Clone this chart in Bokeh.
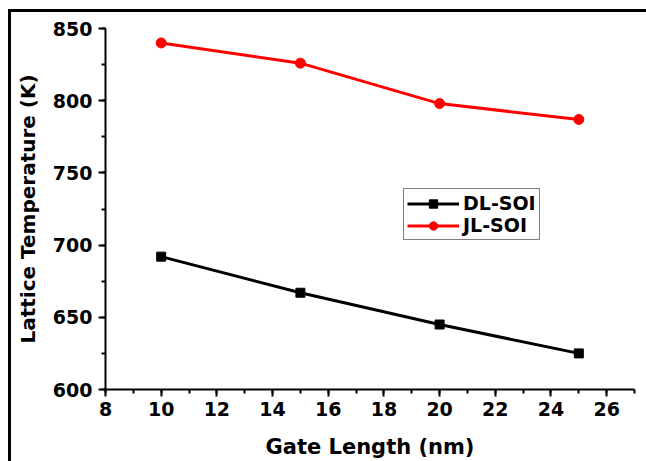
from bokeh.plotting import figure
from bokeh.layouts import column
from bokeh.models import SingleIntervalTicker, Range1d, Legend, LegendItem
from bokeh.embed import file_html
from bokeh.resources import INLINE

gate_length = [10, 15, 20, 25]
dl_soi = [692, 667, 645, 625]
jl_soi = [840, 826, 798, 787]

x_label = "Gate Length (nm)"
y_label = "Lattice Temperature (K)"

FONT = "DejaVu Sans"

p = figure(width=635, height=449, output_backend="svg", toolbar_location=None,
           x_range=Range1d(8, 27), y_range=Range1d(600, 850),
           min_border_left=94, min_border_right=12, min_border_top=16, min_border_bottom=70)
p.outline_line_color = None
p.xgrid.grid_line_color = None
p.ygrid.grid_line_color = None

r1 = p.line(gate_length, dl_soi, line_color="black", line_width=3)
s1 = p.scatter(gate_length, dl_soi, marker="square", size=9, color="black")
r2 = p.line(gate_length, jl_soi, line_color="#ff0000", line_width=3)
s2 = p.scatter(gate_length, jl_soi, marker="circle", size=10, color="#ff0000")

legend = Legend(items=[LegendItem(label="DL-SOI", renderers=[r1, s1]),
                       LegendItem(label="JL-SOI", renderers=[r2, s2])],
                location=(298, 149))
legend.label_text_font = FONT
legend.label_text_font_style = "bold"
legend.label_text_font_size = "19px"
legend.label_text_color = "black"
legend.glyph_width = 52
legend.glyph_height = 21
legend.spacing = 0
legend.padding = 3
legend.margin = 0
legend.label_standoff = 4
legend.border_line_color = "black"
legend.border_line_width = 1
legend.background_fill_alpha = 1
p.add_layout(legend)

p.xaxis.ticker = SingleIntervalTicker(interval=2, num_minor_ticks=2)
p.yaxis.ticker = SingleIntervalTicker(interval=50, num_minor_ticks=2)
p.xaxis.axis_label = x_label
p.yaxis.axis_label = y_label

for ax in (p.xaxis[0], p.yaxis[0]):
    ax.axis_line_width = 2
    ax.axis_line_color = "black"
    ax.major_tick_line_width = 2
    ax.minor_tick_line_width = 2
    ax.major_tick_line_color = "black"
    ax.minor_tick_line_color = "black"
    ax.major_tick_in = 0
    ax.major_tick_out = 7
    ax.minor_tick_in = 0
    ax.minor_tick_out = 4
    ax.major_label_text_font = FONT
    ax.major_label_text_font_style = "bold"
    ax.major_label_text_font_size = "19px"
    ax.major_label_text_color = "black"
    ax.axis_label_text_font = FONT
    ax.axis_label_text_font_style = "bold"
    ax.axis_label_text_color = "black"
p.xaxis.major_label_standoff = 5
p.yaxis.major_label_standoff = 6
p.xaxis.axis_label_text_font_size = "21px"
p.yaxis.axis_label_text_font_size = "20px"
p.yaxis.axis_label_standoff = 10
p.xaxis.axis_label_standoff = 16

layout = column(p, styles={"border-top": "3px solid black", "border-left": "3px solid black",
                           "margin-left": "8px", "margin-top": "9px"})

open("out.html", "w").write(file_html(layout, INLINE))
